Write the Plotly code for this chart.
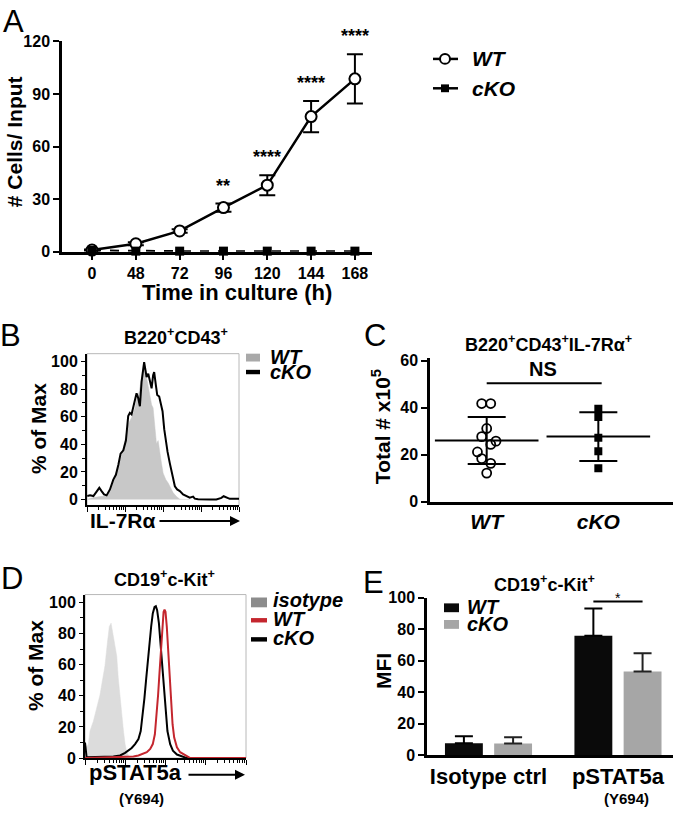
import plotly.graph_objects as go
import numpy as np

W, H = 677, 819
FONT = "Liberation Sans, Arial, sans-serif"

# ---------------- data ----------------
# A: growth curve (# cells / input)
a_hours = ["0", "48", "72", "96", "120", "144", "168"]
a_wt = [1.0, 4.6, 11.9, 25.2, 38.0, 77.1, 98.6]
a_wt_err = [0.3, 0.8, 1.0, 2.3, 5.7, 8.9, 14.0]
a_cko = [0.8, 0.4, 0.4, 0.4, 0.4, 0.4, 0.4]
a_sig = ["", "", "", "**", "****", "****", "****"]

# B: IL-7Ra histogram (x: relative channel 0-100, y: % of max)
b_wt_x = [0.2, 4.2, 8.5, 11.8, 14.0, 16.2, 18.4, 20.6, 22.8, 24.9, 27.1, 29.3, 31.5, 32.6, 34.4,
          35.9, 37.0, 38.1, 39.2, 40.3, 41.4, 42.5, 43.5, 44.6, 45.7, 46.8, 47.9, 49.0, 50.1,
          51.9, 53.4, 54.5, 56.7, 58.9, 61.1, 65.4, 67.6]
b_wt_y = [0.2, 1.4, 2.1, 2.5, 4.9, 9.6, 16.7, 23.8, 32.1, 42.7, 54.6, 59.3, 66.4, 72.3, 78.2,
          88.8, 97.1, 94.8, 87.7, 83.0, 75.8, 68.7, 66.4, 49.8, 40.4, 42.7, 33.3, 26.2, 19.1,
          14.4, 12.0, 9.6, 4.9, 2.1, 0.2, 0.0, 0.0]
b_cko_x = [0.2, 2.0, 4.2, 6.3, 8.1, 9.6, 11.2, 12.9, 15.1, 17.3, 19.0, 20.6, 22.1, 23.9, 25.6,
           27.1, 28.2, 29.3, 30.9, 32.6, 33.7, 34.8, 35.9, 37.0, 37.6, 38.5, 39.2, 40.3, 41.4,
           42.5, 43.5, 44.2, 45.3, 46.2, 47.5, 48.6, 49.7, 50.8, 51.9, 53.0, 54.5, 56.2, 57.8,
           59.3, 61.1, 63.2, 65.4, 67.6, 69.8, 70.9, 73.1, 75.3, 77.5, 80.7, 85.1, 88.4, 89.9,
           91.7, 93.9, 98.2, 100.0]
b_cko_y = [2.5, 3.0, 2.5, 6.1, 8.5, 6.1, 3.7, 3.0, 7.3, 14.4, 17.9, 25.0, 33.3, 35.7, 42.7,
           60.5, 62.8, 61.7, 68.7, 77.0, 73.5, 67.6, 85.3, 95.9, 99.5, 93.6, 88.8, 91.2, 85.3,
           80.6, 90.0, 92.4, 82.9, 75.8, 74.7, 69.9, 64.0, 51.0, 40.4, 34.5, 26.2, 16.7, 9.6,
           7.3, 6.1, 3.7, 2.5, 1.4, 2.1, 0.6, 0.2, 0.0, 0.0, 0.0, 0.0, 1.2, 2.4,
           1.6, 0.5, 0.6, 0.6]

# C: total # x10^5 of B220+CD43+IL-7Ra+ cells
c_groups = ["WT", "cKO"]
c_wt = [41.7, 41.7, 31.1, 27.6, 25.7, 24.3, 21.1, 18.3, 16.25, 12.1]
c_cko = [39.5, 36.0, 27.1, 21.4, 14.2]
c_ns_y = 50.3

# D: pSTAT5a histogram
d_iso_x = [0.0, 1.0, 2.1, 3.1, 5.2, 7.3, 9.3, 11.0, 12.4, 13.9, 15.1, 16.2, 17.2, 18.7, 19.7,
           20.7, 21.8, 22.8, 23.9, 24.9, 25.9, 27.0, 28.0]
d_iso_y = [10.1, 6.9, 9.0, 17.4, 23.7, 32.1, 40.5, 50.9, 59.3, 74.0, 84.5, 86.6, 80.3, 71.9,
           65.6, 50.9, 38.4, 27.9, 17.4, 9.0, 3.8, 1.7, 0.6]
d_cko_x = [0.0, 1.0, 17.6, 21.8, 24.9, 27.0, 29.0, 31.1, 33.2, 34.6, 35.9, 36.9, 38.0, 39.0,
           40.0, 41.1, 42.1, 43.2, 44.0, 44.8, 45.9, 46.9, 47.9, 49.0, 50.0, 51.2, 52.9, 54.6,
           57.1, 60.2, 63.3, 100.0]
d_cko_y = [10.0, 0.5, 1.0, 1.7, 3.4, 4.8, 6.5, 9.0, 12.2, 17.4, 27.9, 38.4, 50.9, 63.5, 74.0,
           84.5, 92.9, 97.1, 97.5, 95.0, 86.6, 74.0, 59.3, 44.7, 30.0, 17.4, 9.0, 4.8, 2.3,
           1.0, 0.0, 0.0]
d_wt_x = [0.0, 30.1, 33.2, 36.3, 38.4, 40.5, 42.1, 43.4, 44.4, 45.4, 46.3, 47.1, 47.9, 48.8,
          49.4, 50.0, 50.8, 51.7, 52.5, 53.3, 54.4, 55.4, 57.1, 59.1, 62.2, 65.4, 100.0]
d_wt_y = [0.0, 1.0, 1.7, 2.7, 3.8, 5.9, 9.0, 15.3, 25.8, 40.5, 55.1, 69.8, 84.5, 93.9, 95.4,
          93.9, 84.5, 69.8, 53.0, 36.3, 21.6, 13.2, 6.9, 3.8, 1.7, 0.0, 0.0]

# E: MFI bars
e_groups = ["Isotype ctrl", "pSTAT5a"]
e_wt = [7.6, 75.8]
e_wt_err = [4.4, 17.2]
e_cko = [7.45, 53.0]
e_cko_err = [3.9, 11.6]
e_sig_y = 97.5

# ---------------- style ----------------
c_wt_jitter = [-0.045, 0.036, 0.0, -0.045, 0.083, 0.036, -0.083, -0.045, 0.036, 0.0]
E_BARGAP = 0.24
RED = "#c4262e"


def px(x):
    return x / W


def py(y):
    return 1 - y / H


fig = go.Figure()

# ---- A ----
idx = list(range(len(a_hours)))
fig.add_trace(go.Scatter(
    x=idx, y=a_wt, mode="lines+markers", xaxis="x", yaxis="y", cliponaxis=False,
    line=dict(color="black", width=2.5),
    marker=dict(symbol="circle", size=11, color="white", line=dict(color="black", width=2)),
    error_y=dict(type="data", array=a_wt_err, color="black", thickness=2, width=8),
    showlegend=False))
fig.add_trace(go.Scatter(
    x=idx, y=a_cko, mode="lines+markers", xaxis="x", yaxis="y", cliponaxis=False,
    line=dict(color="black", width=2, dash="dash"),
    marker=dict(symbol="square", size=9, color="black"),
    showlegend=False))

# ---- B ----
fig.add_trace(go.Scatter(
    x=b_wt_x, y=b_wt_y, mode="lines", fill="tozeroy", fillcolor="#c8c8c8",
    line=dict(color="#c8c8c8", width=0.5), xaxis="x2", yaxis="y2", showlegend=False))
fig.add_trace(go.Scatter(
    x=b_cko_x, y=b_cko_y, mode="lines", line=dict(color="black", width=2),
    xaxis="x2", yaxis="y2", showlegend=False))

# ---- C ----
fig.add_trace(go.Scatter(
    x=[0 + j for j in c_wt_jitter], y=c_wt, mode="markers", xaxis="x3", yaxis="y3",
    marker=dict(symbol="circle-open", size=9, color="black", line=dict(width=1.8)),
    showlegend=False))
fig.add_trace(go.Scatter(
    x=[1] * len(c_cko), y=c_cko, mode="markers", xaxis="x3", yaxis="y3",
    marker=dict(symbol="square", size=8, color="black"), showlegend=False))
means = [float(np.mean(c_wt)), float(np.mean(c_cko))]
sds = [float(np.std(c_wt, ddof=1)), float(np.std(c_cko, ddof=1))]
fig.add_trace(go.Scatter(
    x=[0, 1], y=means, mode="markers", xaxis="x3", yaxis="y3",
    marker=dict(symbol="line-ew", size=74, color="black", line=dict(color="black", width=2)),
    error_y=dict(type="data", array=sds, color="black", thickness=2, width=19),
    showlegend=False))
fig.add_trace(go.Scatter(
    x=[0, 1.03], y=[c_ns_y, c_ns_y], mode="lines", xaxis="x3", yaxis="y3",
    line=dict(color="black", width=2), showlegend=False))

# ---- D ----
fig.add_trace(go.Scatter(
    x=d_iso_x, y=d_iso_y, mode="lines", fill="tozeroy", fillcolor="#dcdcdc",
    line=dict(color="#dcdcdc", width=0.5), xaxis="x4", yaxis="y4", showlegend=False))
fig.add_trace(go.Scatter(
    x=d_cko_x, y=d_cko_y, mode="lines", line=dict(color="black", width=2),
    xaxis="x4", yaxis="y4", showlegend=False))
fig.add_trace(go.Scatter(
    x=d_wt_x, y=d_wt_y, mode="lines", line=dict(color=RED, width=2),
    xaxis="x4", yaxis="y4", showlegend=False))

# ---- E ----
fig.add_trace(go.Bar(
    x=[0, 1], y=e_wt, marker=dict(color="#0a0a0a", line=dict(width=0)), xaxis="x5", yaxis="y5",
    error_y=dict(type="data", array=e_wt_err, arrayminus=[0, 0], symmetric=False,
                 color="black", thickness=2, width=9),
    showlegend=False))
fig.add_trace(go.Bar(
    x=[0, 1], y=e_cko, marker=dict(color="#a6a6a6", line=dict(width=0)), xaxis="x5", yaxis="y5",
    error_y=dict(type="data", array=e_cko_err, arrayminus=[0, 0], symmetric=False,
                 color="#222222", thickness=2, width=9),
    showlegend=False))
off = (1 - E_BARGAP) / 4
fig.add_trace(go.Scatter(
    x=[1 - off, 1 + off], y=[e_sig_y, e_sig_y], mode="lines", xaxis="x5", yaxis="y5",
    line=dict(color="black", width=2), showlegend=False, cliponaxis=False))

# ---------------- axes ----------------
tickfont = dict(family=FONT, size=15, color="black", weight="bold")
base = dict(showgrid=False, zeroline=False, showline=True, linecolor="black", linewidth=2.5,
            ticks="outside", tickcolor="black", tickwidth=2, ticklen=5, tickfont=tickfont)


def flow_ticks():
    major = [0, 25, 50, 75, 100]
    minor = []
    for d in [0, 25, 50, 75]:
        for k in range(2, 10):
            minor.append(d + 25 * np.log10(k))
    return major, minor


fmaj, fmin = flow_ticks()

layout_axes = dict(
    xaxis=dict(base, domain=[px(62), px(372)], range=[-0.685, 6.39], tickvals=idx,
               ticktext=a_hours, anchor="y", ticklen=5, tickfont=dict(tickfont, size=16)),
    yaxis=dict(base, domain=[py(249), py(34)], range=[0, 120], tickvals=[0, 30, 60, 90, 120],
               anchor="x", ticklen=6, tickfont=dict(tickfont, size=16)),
    xaxis2=dict(base, domain=[px(87), px(239)], range=[0, 100], anchor="y2", linewidth=2,
                tickvals=fmaj, showticklabels=False, ticklen=5, tickwidth=1.2,
                minor=dict(tickvals=fmin, ticklen=3, tickwidth=1, tickcolor="black", ticks="outside")),
    yaxis2=dict(base, domain=[py(508), py(353)], range=[-4.3, 105.7], anchor="x2", linewidth=2,
                tickvals=[0, 20, 40, 60, 80, 100], ticklen=4, tickwidth=1.2,
                tickfont=dict(tickfont, size=16),
                minor=dict(dtick=10, tick0=0, ticklen=3, tickwidth=1, tickcolor="black", ticks="outside")),
    xaxis3=dict(base, domain=[px(430), px(673)], range=[-0.508, 1.669], anchor="y3",
                tickvals=[0, 1], ticktext=c_groups, ticks="",
                tickfont=dict(tickfont, size=21, style="italic")),
    yaxis3=dict(base, domain=[py(504), py(357)], range=[0, 61.25], anchor="x3",
                tickvals=[0, 20, 40, 60], ticklen=6, tickfont=dict(tickfont, size=16)),
    xaxis4=dict(base, domain=[px(85), px(246)], range=[0, 100], anchor="y4", linewidth=2,
                tickvals=fmaj, showticklabels=False, ticklen=5, tickwidth=1.2,
                minor=dict(tickvals=fmin, ticklen=3, tickwidth=1, tickcolor="black", ticks="outside")),
    yaxis4=dict(base, domain=[py(766), py(599)], range=[0, 105], anchor="x4", linewidth=2,
                tickvals=[0, 20, 40, 60, 80, 100], ticklen=4, tickwidth=1.2,
                tickfont=dict(tickfont, size=16),
                minor=dict(dtick=10, tick0=0, ticklen=3, tickwidth=1, tickcolor="black", ticks="outside")),
    xaxis5=dict(base, domain=[px(427), px(673)], range=[-0.475, 1.425], anchor="y5",
                tickvals=[0, 1], ticktext=e_groups, ticks="",
                tickfont=dict(tickfont, size=22)),
    yaxis5=dict(base, domain=[py(763), py(602)], range=[0, 100], anchor="x5",
                tickvals=[0, 20, 40, 60, 80, 100], ticklen=6, tickfont=dict(tickfont, size=16)),
)

# ---------------- annotations & shapes ----------------
ann = []
shapes = []


def text(x, y, t, size, bold=True, italic=False, xanchor="center", yanchor="middle", angle=0,
         color="black"):
    ann.append(dict(x=px(x), y=py(y), xref="paper", yref="paper", text=t, showarrow=False,
                    xanchor=xanchor, yanchor=yanchor, textangle=angle,
                    font=dict(family=FONT, size=size, color=color,
                              weight="bold" if bold else "normal",
                              style="italic" if italic else "normal")))


def rect(x0, y0, x1, y1, color, line=None):
    shapes.append(dict(type="rect", xref="paper", yref="paper", x0=px(x0), x1=px(x1),
                       y0=py(y1), y1=py(y0), fillcolor=color,
                       line=dict(width=0) if line is None else line))


def arrow(x0, x1, y):
    ann.append(dict(x=px(x1), y=py(y), ax=-(x1 - x0), ay=0, xref="paper", yref="paper",
                    axref="pixel", ayref="pixel", text="", showarrow=True, arrowhead=2,
                    arrowsize=1, arrowwidth=2, arrowcolor="black"))


# panel letters
for lab, x, y in [("A", 13, 14), ("B", 11, 334), ("C", 375, 334), ("D", 12, 583), ("E", 373, 587)]:
    text(x, y, lab, 31, bold=False)

# A
text(14, 137, "# Cells/ Input", 21, angle=-90)
text(237, 291, "Time in culture (h)", 22)
for i, s in enumerate(a_sig):
    if s:
        ann.append(dict(x=i, y=a_wt[i] + a_wt_err[i], xref="x", yref="y", text=s, showarrow=False,
                        yanchor="bottom", yshift=6,
                        font=dict(family=FONT, size=18, color="black", weight="bold")))
shapes.append(dict(type="line", xref="paper", yref="paper", x0=px(433), x1=px(458), y0=py(52),
                   y1=py(52), line=dict(color="black", width=2.5)))
shapes.append(dict(type="circle", xref="paper", yref="paper", x0=px(440), x1=px(450), y0=py(57),
                   y1=py(47), fillcolor="white", line=dict(color="black", width=2)))
shapes.append(dict(type="line", xref="paper", yref="paper", x0=px(433), x1=px(458), y0=py(82),
                   y1=py(82), line=dict(color="black", width=2.5)))
rect(441, 78, 449, 86, "black")
text(470, 52, "WT", 21, italic=True, xanchor="left")
text(470, 82, "cKO", 21, italic=True, xanchor="left")

# B
text(176, 335, "B220<sup>+</sup>CD43<sup>+</sup>", 18)
text(38, 430, "% of Max", 21, angle=-90)
text(88, 523, "IL-7Rα", 21, xanchor="left")
arrow(158, 240, 524)
shapes.append(dict(type="rect", xref="x2 domain", yref="y2 domain", x0=0, x1=1, y0=0, y1=1,
                   line=dict(color="#b8b8b8", width=1), layer="below"))
rect(246, 353, 260, 361, "#a9a9a9")
rect(246, 369.5, 260, 374, "black")
text(268, 356, "WT", 20, italic=True, xanchor="left")
text(268, 372, "cKO", 20, italic=True, xanchor="left")

# C
text(548, 343, "B220<sup>+</sup>CD43<sup>+</sup>IL-7Rα<sup>+</sup>", 18)
text(381, 427, "Total # x10<sup>5</sup>", 21, angle=-90)
ann.append(dict(x=0.5, y=c_ns_y, xref="x3", yref="y3", text="NS", showarrow=False,
                yanchor="bottom", yshift=1,
                font=dict(family=FONT, size=20, color="black", weight="bold")))

# D
text(164, 583, "CD19<sup>+</sup>c-Kit<sup>+</sup>", 18)
text(35, 672, "% of Max", 21, angle=-90)
text(87, 781, "pSTAT5a", 22, xanchor="left")
arrow(187, 245, 783)
text(141, 807, "(Y694)", 15)
shapes.append(dict(type="rect", xref="x4 domain", yref="y4 domain", x0=0, x1=1, y0=0, y1=1,
                   line=dict(color="#b8b8b8", width=1), layer="below"))
rect(251, 602, 267, 612, "#8c8c8c")
rect(251, 623, 267, 627.5, RED)
rect(251, 642.5, 267, 647, "black")
text(271, 605, "isotype", 20, italic=True, xanchor="left")
text(271, 624, "WT", 20, italic=True, xanchor="left")
text(271, 643, "cKO", 20, italic=True, xanchor="left")

# E
text(544, 588, "CD19<sup>+</sup>c-Kit<sup>+</sup>", 18)
text(384, 677, "MFI", 21, angle=-90)
text(626, 807, "(Y694)", 15)
rect(444, 608, 459, 617, "#0a0a0a")
rect(444, 625, 459, 634, "#a6a6a6")
text(465, 612, "WT", 20, italic=True, xanchor="left")
text(465, 629, "cKO", 20, italic=True, xanchor="left")
ann.append(dict(x=1, y=e_sig_y, xref="x5", yref="y5", text="*", showarrow=False,
                yanchor="bottom", yshift=-7,
                font=dict(family=FONT, size=14, color="black")))

fig.update_layout(
    width=W, height=H, margin=dict(l=0, r=0, t=0, b=0),
    paper_bgcolor="white", plot_bgcolor="white",
    barmode="group", bargap=E_BARGAP, bargroupgap=0.23,
    annotations=ann, shapes=shapes, showlegend=False,
    font=dict(family=FONT, color="black"),
    **layout_axes,
)

fig.write_html("out.html", config={"displayModeBar": False},
               post_script="document.body.style.margin='0px';document.body.style.overflow='hidden';")
